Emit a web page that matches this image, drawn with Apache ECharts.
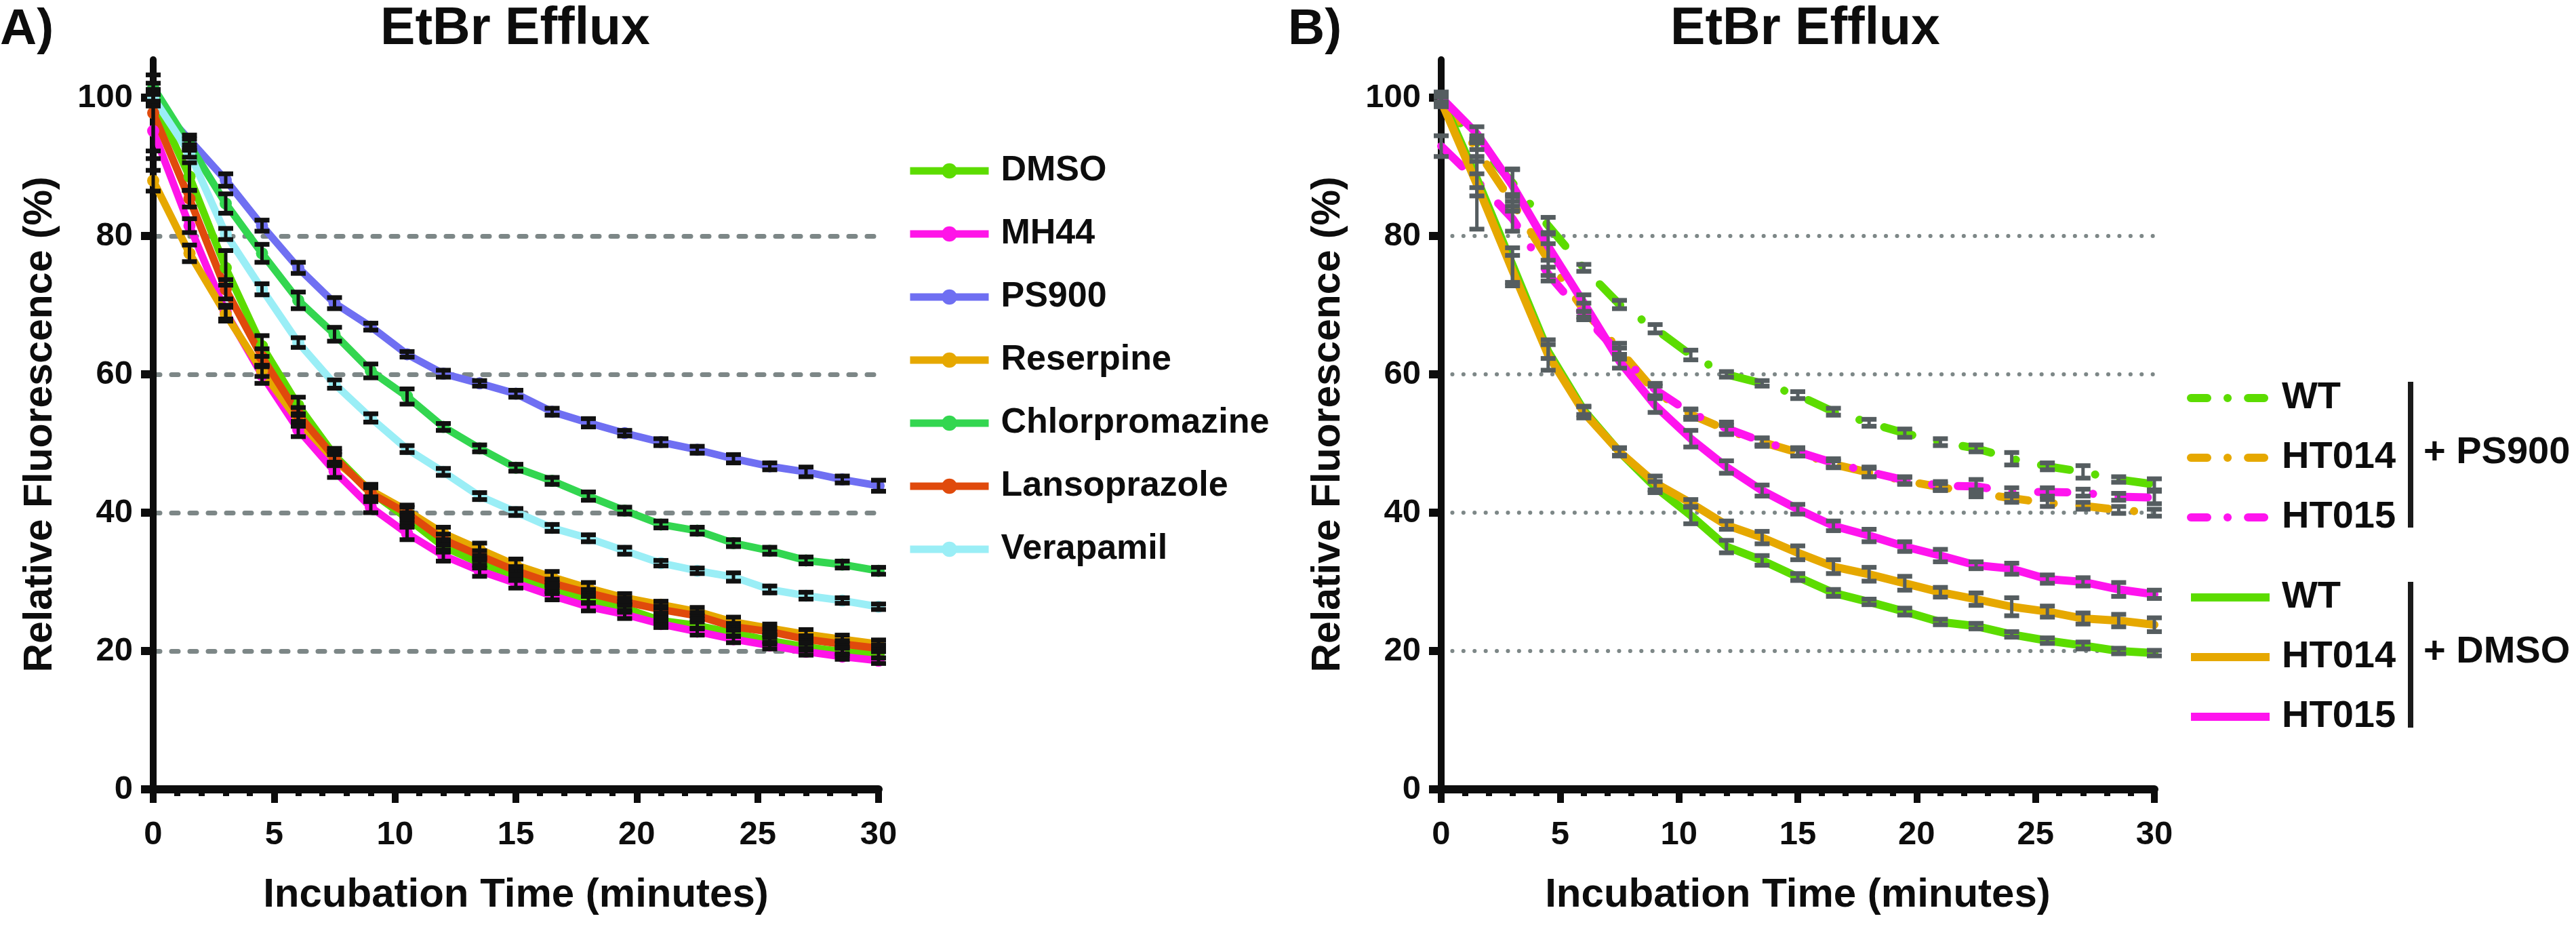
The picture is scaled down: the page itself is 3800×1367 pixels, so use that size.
<!DOCTYPE html>
<html>
<head>
<meta charset="utf-8">
<title>EtBr Efflux</title>
<script src="https://cdn.jsdelivr.net/npm/echarts@6/dist/echarts.min.js"></script>
<style>
  html, body { margin: 0; padding: 0; background: #fff; }
  #chart { width: 3800px; height: 1367px; }
</style>
</head>
<body>
<div id="chart"></div>
<script>
// sampling times (minutes), same for both panels
const times = [0, 1.5, 3, 4.5, 6, 7.5, 9, 10.5, 12, 13.5, 15, 16.5, 18, 19.5, 21, 22.5, 24, 25.5, 27, 28.5, 30];
const yTicks = [0, 20, 40, 60, 80, 100];

// panel A - relative fluorescence (%), mean
const dmso = [100, 88.6, 75.4, 64.1, 55.5, 48.3, 43.0, 39.2, 35.1, 32.7, 30.9, 28.9, 27.5, 26.2, 24.4, 23.7, 22.6, 21.5, 20.6, 19.9, 19.5];
const mh44 = [95.2, 81.5, 69.0, 59.9, 52.0, 46.0, 40.8, 37.0, 33.8, 31.6, 29.8, 28.0, 26.4, 25.3, 23.9, 22.8, 21.7, 20.8, 19.9, 19.2, 18.6];
const ps900 = [99.7, 93.9, 88.1, 81.5, 75.4, 70.3, 66.9, 62.9, 60.1, 58.7, 57.2, 54.6, 53.0, 51.5, 50.2, 49.1, 47.8, 46.7, 45.9, 44.8, 43.9];
const reserpine = [88.0, 77.5, 68.7, 60.5, 53.3, 47.6, 43.2, 40.3, 37.0, 34.7, 32.4, 30.7, 29.1, 27.7, 26.7, 25.7, 24.2, 23.3, 22.4, 21.7, 21.0];
const chlorpromazine = [101.5, 93.2, 84.7, 77.5, 70.7, 65.8, 60.5, 56.8, 52.4, 49.3, 46.5, 44.6, 42.4, 40.3, 38.3, 37.4, 35.6, 34.5, 33.1, 32.5, 31.6];
const lansoprazole = [97.8, 85.4, 72.3, 62.5, 54.2, 48.0, 42.8, 39.9, 36.1, 33.8, 31.6, 29.8, 28.4, 27.1, 26.0, 25.1, 23.5, 22.8, 21.7, 21.0, 20.4];
const verapamil = [100, 92.0, 80.3, 72.3, 64.6, 58.6, 53.7, 49.2, 45.9, 42.4, 40.1, 37.8, 36.3, 34.5, 32.7, 31.6, 30.7, 28.9, 28.0, 27.3, 26.4];

// panel A - error (SD)
const dmsoSd = [1.2, 2.0, 2.5, 1.5, 1.2, 1.0, 0.9, 0.8, 0.8, 0.7, 0.7, 0.6, 0.6, 0.6, 0.5, 0.5, 0.5, 0.5, 0.5, 0.5, 0.5];
const mh44Sd = [4.0, 1.0, 1.0, 1.2, 1.0, 0.9, 0.8, 0.9, 0.8, 0.8, 0.7, 0.6, 0.6, 0.6, 0.5, 0.5, 0.5, 0.5, 0.5, 0.4, 0.4];
const ps900Sd = [0.8, 0.7, 0.9, 0.8, 0.8, 0.8, 0.5, 0.4, 0.5, 0.4, 0.5, 0.5, 0.6, 0.4, 0.5, 0.5, 0.6, 0.5, 0.7, 0.5, 0.8];
const reserpineSd = [1.5, 1.2, 1.0, 0.8, 0.8, 0.8, 0.9, 0.8, 0.9, 0.9, 0.9, 0.8, 0.8, 0.6, 0.5, 0.6, 0.7, 0.6, 0.7, 0.6, 0.6];
const chlorpromazineSd = [0.6, 0.8, 1.4, 1.3, 1.2, 1.0, 1.0, 1.1, 0.5, 0.5, 0.5, 0.5, 0.6, 0.5, 0.5, 0.5, 0.5, 0.5, 0.5, 0.5, 0.5];
const lansoprazoleSd = [5.5, 1.2, 1.4, 1.2, 1.0, 0.8, 0.8, 0.9, 0.8, 0.7, 0.6, 0.6, 0.5, 0.5, 0.5, 0.5, 0.5, 0.5, 0.5, 0.5, 0.5];
const verapamilSd = [0.5, 0.6, 0.8, 0.8, 0.7, 0.6, 0.6, 0.5, 0.5, 0.5, 0.5, 0.5, 0.5, 0.5, 0.4, 0.4, 0.6, 0.5, 0.5, 0.4, 0.4];

// panel B - mean
const wtPs900 = [99.5, 93.5, 87.7, 81.5, 75.4, 70.1, 66.6, 62.8, 60.0, 58.7, 57.0, 54.6, 53.0, 51.5, 50.2, 49.3, 47.8, 46.7, 45.9, 44.8, 44.1];
const ht014Ps900 = [100, 92.5, 84.8, 76.6, 69.3, 63.5, 57.5, 54.2, 52.0, 50.2, 48.7, 47.0, 45.8, 44.6, 43.7, 42.8, 42.1, 41.4, 41.0, 40.4, 40.0];
const ht015Ps900 = [93.0, 88.0, 82.5, 74.5, 68.5, 63.0, 57.8, 54.4, 52.2, 50.3, 48.8, 47.2, 45.9, 44.7, 43.9, 43.8, 43.0, 43.0, 42.9, 42.3, 42.2];
const wtDmso = [100, 88.3, 75.8, 63.3, 54.8, 48.8, 43.7, 39.6, 35.1, 33.1, 30.7, 28.4, 27.1, 25.7, 24.2, 23.6, 22.4, 21.5, 20.8, 20.0, 19.7];
const ht014Dmso = [99.5, 87.5, 75.0, 62.8, 54.5, 48.8, 44.3, 41.4, 38.2, 36.4, 34.2, 32.2, 31.1, 29.8, 28.5, 27.5, 26.4, 25.7, 24.7, 24.4, 23.8];
const ht015Dmso = [100, 94.8, 87.3, 78.5, 70.3, 61.9, 55.5, 50.7, 46.6, 43.2, 40.5, 38.1, 36.7, 35.1, 33.8, 32.4, 31.9, 30.4, 30.0, 28.9, 28.2];

// panel B - error (SD)
const wtPs900Sd = [0.6, 1.0, 2.0, 1.2, 0.5, 0.6, 0.6, 0.7, 0.4, 0.4, 0.5, 0.5, 0.5, 0.6, 0.5, 0.5, 0.9, 0.5, 0.9, 0.4, 0.8];
const ht014Ps900Sd = [0.8, 1.0, 1.2, 2.3, 1.0, 1.0, 0.8, 0.7, 0.6, 0.6, 0.5, 0.5, 0.6, 0.5, 0.5, 0.5, 0.6, 0.5, 0.5, 0.5, 0.5];
const ht015Ps900Sd = [1.5, 1.0, 1.8, 1.0, 0.6, 0.8, 0.9, 0.6, 0.9, 0.5, 0.6, 0.6, 0.7, 0.5, 0.6, 1.0, 0.6, 0.6, 0.5, 0.5, 0.9];
const wtDmsoSd = [0.8, 2.5, 2.5, 1.0, 0.6, 0.5, 0.8, 1.2, 0.9, 0.7, 0.5, 0.5, 0.4, 0.5, 0.4, 0.4, 0.4, 0.4, 0.5, 0.4, 0.4];
const ht014DmsoSd = [0.8, 6.5, 2.2, 2.2, 0.8, 0.6, 1.0, 0.5, 0.6, 0.9, 1.0, 1.0, 1.0, 1.0, 0.7, 0.9, 1.3, 0.8, 0.8, 0.9, 1.0];
const ht015DmsoSd = [0.6, 1.0, 2.3, 2.0, 1.2, 1.0, 1.0, 1.2, 0.9, 0.8, 0.7, 0.7, 0.9, 0.7, 0.9, 0.5, 0.8, 0.6, 0.6, 1.0, 0.6];

const FONT = "'Liberation Sans', Arial, sans-serif";
const INK = '#0d0d0d';

const chart = echarts.init(document.getElementById('chart'), null, {renderer: 'canvas'});

function lineSeries(name, panel, values, color, dash) {
  return {
    name: name,
    type: 'line',
    xAxisIndex: panel,
    yAxisIndex: panel,
    data: times.map((t, i) => [t, values[i]]),
    symbol: panel === 0 ? 'circle' : 'none',
    symbolSize: 18,
    showAllSymbol: true,
    z: 2,
    lineStyle: {color: color, width: panel === 0 ? 11 : 12, type: dash || 'solid', cap: 'round', join: 'round'},
    itemStyle: {color: color, borderWidth: 0}
  };
}

// error bars: vertical stem + two caps
function errorBars(panel, values, sd, color) {
  return {
    type: 'custom',
    xAxisIndex: panel,
    yAxisIndex: panel,
    z: 5,
    silent: true,
    data: times.map((t, i) => [t, values[i] - sd[i], values[i] + sd[i]]),
    encode: {x: 0, y: [1, 2]},
    renderItem: function (params, api) {
      const lo = api.coord([api.value(0), api.value(1)]);
      const hi = api.coord([api.value(0), api.value(2)]);
      const h = 11;
      return {
        type: 'group',
        children: [
          {type: 'line', shape: {x1: lo[0], y1: lo[1], x2: hi[0], y2: hi[1]}, style: {stroke: color, lineWidth: 5}},
          {type: 'line', shape: {x1: hi[0] - h, y1: hi[1], x2: hi[0] + h, y2: hi[1]}, style: {stroke: color, lineWidth: 7}},
          {type: 'line', shape: {x1: lo[0] - h, y1: lo[1], x2: lo[0] + h, y2: lo[1]}, style: {stroke: color, lineWidth: 7}}
        ]
      };
    }
  };
}

function xAxis(grid) {
  return {
    type: 'value', gridIndex: grid, min: 0, max: 30, interval: 5,
    axisLine: {show: true, onZero: false, lineStyle: {color: INK, width: 12}},
    axisTick: {show: true, inside: false, length: 20, lineStyle: {color: INK, width: 10}},
    minorTick: {show: true, splitNumber: 5, length: 10, lineStyle: {color: INK, width: 9}},
    splitLine: {show: false},
    axisLabel: {fontFamily: FONT, fontWeight: 'bold', fontSize: 49, lineHeight: 49, color: INK, margin: 43},
    name: 'Incubation Time (minutes)',
    nameLocation: 'middle',
    nameGap: 126,
    nameMoveOverlap: false,
    nameTextStyle: {fontFamily: FONT, fontWeight: 'bold', fontSize: 60, lineHeight: 60, color: INK}
  };
}

function yAxis(grid, gridLine) {
  return {
    type: 'value', gridIndex: grid, min: 0, max: 105.5, interval: 20,
    axisLine: {show: true, onZero: false, lineStyle: {color: INK, width: 10}},
    axisTick: {show: true, inside: false, length: 18, customValues: yTicks, lineStyle: {color: INK, width: 12}},
    axisLabel: {customValues: yTicks, fontFamily: FONT, fontWeight: 'bold', fontSize: 49, color: INK, margin: 30},
    splitLine: {show: true, showMinLine: false, showMaxLine: false, lineStyle: gridLine},
    name: 'Relative Fluorescence (%)',
    nameLocation: 'middle',
    nameGap: 137,
    nameMoveOverlap: false,
    nameTextStyle: {fontFamily: FONT, fontWeight: 'bold', fontSize: 59, lineHeight: 59, color: INK}
  };
}

const dashDot = [43, 38, 0.1, 38];
const namesA = ['DMSO', 'MH44', 'PS900', 'Reserpine', 'Chlorpromazine', 'Lansoprazole', 'Verapamil'];
const legendText = (size) => ({fontFamily: FONT, fontWeight: 'bold', fontSize: size, lineHeight: size, color: INK, padding: [0, 0, 0, 13]});

const option = {
  animation: false,
  backgroundColor: '#ffffff',
  grid: [
    {left: 226, top: 88, width: 1070, height: 1076, containLabel: false, outerBoundsMode: 'none'},
    {left: 2126, top: 88, width: 1052, height: 1076, containLabel: false, outerBoundsMode: 'none'}
  ],
  xAxis: [xAxis(0), xAxis(1)],
  yAxis: [
    yAxis(0, {color: '#7d8787', width: 7, type: [10, 17], cap: 'round'}),
    yAxis(1, {color: '#7d8787', width: 6, type: [0.1, 16.3], cap: 'round'})
  ],
  legend: [
    {
      data: namesA, orient: 'vertical', left: 1332, top: 221,
      itemWidth: 116, itemHeight: 28, itemGap: 41,
      lineStyle: {width: 11, type: 'solid', cap: 'butt'},
      textStyle: legendText(52)
    },
    {
      data: ['WT + PS900', 'HT014 + PS900', 'HT015 + PS900'], orient: 'vertical', left: 3221, top: 554,
      itemWidth: 116, itemHeight: 14, itemGap: 32,
      lineStyle: {width: 12, type: [24, 30, 0.1, 30], cap: 'round'},
      itemStyle: {opacity: 0},
      formatter: name => name.split(' + ')[0],
      textStyle: legendText(56)
    },
    {
      data: ['WT + DMSO', 'HT014 + DMSO', 'HT015 + DMSO'], orient: 'vertical', left: 3221, top: 848,
      itemWidth: 116, itemHeight: 14, itemGap: 32,
      lineStyle: {width: 12, type: 'solid', cap: 'butt'},
      itemStyle: {opacity: 0},
      formatter: name => name.split(' + ')[0],
      textStyle: legendText(56)
    }
  ],
  graphic: [
    {type: 'text', x: 0, y: 44, style: {text: 'A)', fontFamily: FONT, fontWeight: 'bold', fontSize: 75, fill: INK, align: 'left', verticalAlign: 'middle'}},
    {type: 'text', x: 1900, y: 44, style: {text: 'B)', fontFamily: FONT, fontWeight: 'bold', fontSize: 75, fill: INK, align: 'left', verticalAlign: 'middle'}},
    {type: 'text', x: 760, y: 44, style: {text: 'EtBr Efflux', fontFamily: FONT, fontWeight: 'bold', fontSize: 77, fill: INK, align: 'center', verticalAlign: 'middle'}},
    {type: 'text', x: 2663, y: 44, style: {text: 'EtBr Efflux', fontFamily: FONT, fontWeight: 'bold', fontSize: 77, fill: INK, align: 'center', verticalAlign: 'middle'}},
    // group brackets of the right legend
    {type: 'line', shape: {x1: 3556, y1: 563, x2: 3556, y2: 778}, style: {stroke: '#1a1a1a', lineWidth: 8}},
    {type: 'line', shape: {x1: 3556, y1: 858, x2: 3556, y2: 1073}, style: {stroke: '#1a1a1a', lineWidth: 8}},
    {type: 'text', x: 3575, y: 668, style: {text: '+ PS900', fontFamily: FONT, fontWeight: 'bold', fontSize: 56, fill: INK, align: 'left', verticalAlign: 'middle'}},
    {type: 'text', x: 3575, y: 962, style: {text: '+ DMSO', fontFamily: FONT, fontWeight: 'bold', fontSize: 56, fill: INK, align: 'left', verticalAlign: 'middle'}}
  ],
  series: [
    lineSeries('DMSO', 0, dmso, '#5cdc00'),
    lineSeries('MH44', 0, mh44, '#ff14e8'),
    lineSeries('PS900', 0, ps900, '#6f6ff2'),
    lineSeries('Reserpine', 0, reserpine, '#e6a800'),
    lineSeries('Chlorpromazine', 0, chlorpromazine, '#33d650'),
    lineSeries('Lansoprazole', 0, lansoprazole, '#e04a0c'),
    lineSeries('Verapamil', 0, verapamil, '#9aeef6'),
    errorBars(0, dmso, dmsoSd, '#111111'),
    errorBars(0, mh44, mh44Sd, '#111111'),
    errorBars(0, ps900, ps900Sd, '#111111'),
    errorBars(0, reserpine, reserpineSd, '#111111'),
    errorBars(0, chlorpromazine, chlorpromazineSd, '#111111'),
    errorBars(0, lansoprazole, lansoprazoleSd, '#111111'),
    errorBars(0, verapamil, verapamilSd, '#111111'),

    lineSeries('WT + PS900', 1, wtPs900, '#5cdc00', dashDot),
    lineSeries('HT014 + PS900', 1, ht014Ps900, '#e6a800', dashDot),
    lineSeries('HT015 + PS900', 1, ht015Ps900, '#ff14ee', dashDot),
    lineSeries('WT + DMSO', 1, wtDmso, '#5cdc00'),
    lineSeries('HT014 + DMSO', 1, ht014Dmso, '#e6a800'),
    lineSeries('HT015 + DMSO', 1, ht015Dmso, '#ff14ee'),
    errorBars(1, wtPs900, wtPs900Sd, '#555d60'),
    errorBars(1, ht014Ps900, ht014Ps900Sd, '#555d60'),
    errorBars(1, ht015Ps900, ht015Ps900Sd, '#555d60'),
    errorBars(1, wtDmso, wtDmsoSd, '#555d60'),
    errorBars(1, ht014Dmso, ht014DmsoSd, '#555d60'),
    errorBars(1, ht015Dmso, ht015DmsoSd, '#555d60')
  ]
};

chart.setOption(option);
</script>
</body>
</html>
